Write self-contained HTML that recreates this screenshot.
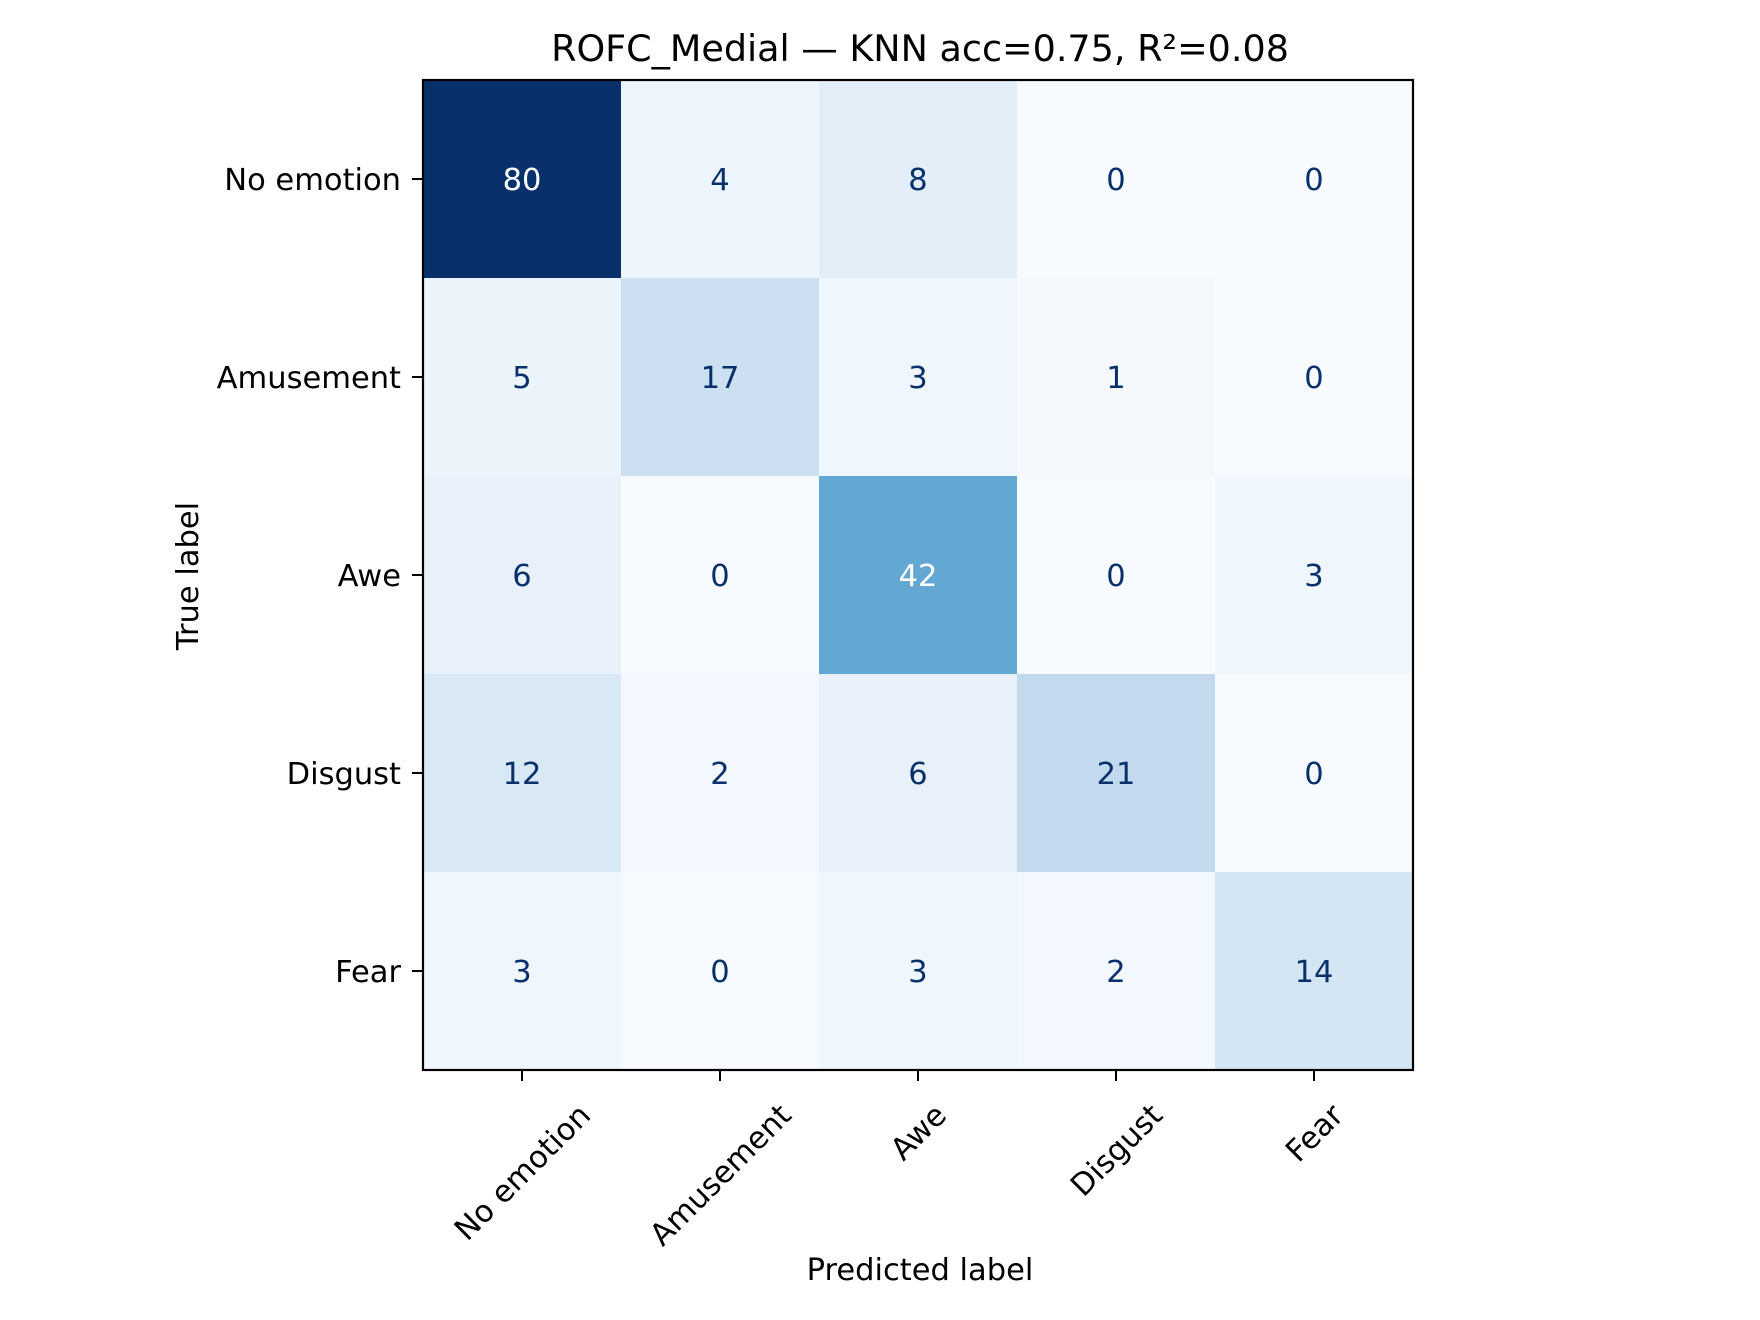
<!DOCTYPE html>
<html><head><meta charset="utf-8"><style>
html,body{margin:0;padding:0;background:#fff}
svg{display:block;font-family:"DejaVu Sans","Liberation Sans",sans-serif}
</style></head><body>
<svg id="chart" width="1760" height="1320" viewBox="0 0 1760 1320">
<rect width="1760" height="1320" fill="#fff"/>
<text x="920" y="61" font-size="36.5" text-anchor="middle">ROFC_Medial — KNN acc=0.75, R²=0.08</text>
<g id="cells"></g>
<g id="ticks"></g>
<rect x="423" y="80" width="990" height="990" fill="none" stroke="#000" stroke-width="2.2"/>
<text x="920" y="1280" font-size="30.5" text-anchor="middle">Predicted label</text>
<text transform="translate(198,576) rotate(-90)" font-size="30.5" text-anchor="middle">True label</text>
</svg>
<script>
const categories = ["No emotion","Amusement","Awe","Disgust","Fear"];
const row0 = [80,4,8,0,0];
const row1 = [5,17,3,1,0];
const row2 = [6,0,42,0,3];
const row3 = [12,2,6,21,0];
const row4 = [3,0,3,2,14];
const matrix = [row0,row1,row2,row3,row4];

const X0=423, Y0=80, SIZE=990, N=categories.length, CW=SIZE/N;
const xPos = i => X0 + CW*(i+0.5);
const yPos = i => Y0 + CW*(i+0.5);
const stops = ["#f7fbff","#deebf7","#c6dbef","#9ecae1","#6baed6","#4292c6","#2171b5","#08519c","#08306b"];
function hex(h){return [1,3,5].map(k=>parseInt(h.substr(k,2),16));}
function blues(t){
  t=Math.max(0,Math.min(1,t));
  const p=t*(stops.length-1), i=Math.min(Math.floor(p),stops.length-2), f=p-i;
  const a=hex(stops[i]), b=hex(stops[i+1]);
  return "rgb("+a.map((v,k)=>Math.round(v+(b[k]-v)*f)).join(",")+")";
}
const all=matrix.flat(), vmax=Math.max(...all), vmin=Math.min(...all);
const NS="http://www.w3.org/2000/svg";
const cells=document.getElementById("cells"), ticks=document.getElementById("ticks");
function mk(tag,attrs,parent){const e=document.createElementNS(NS,tag);for(const k in attrs)e.setAttribute(k,attrs[k]);parent.appendChild(e);return e;}
matrix.forEach((row,r)=>row.forEach((v,c)=>{
  const rect=mk("rect",{x:xPos(c)-CW/2,y:yPos(r)-CW/2,width:CW+0.5,height:CW+0.5,fill:blues((v-vmin)/(vmax-vmin))},cells);
  
  
  const t=mk("text",{x:xPos(c),y:yPos(r)+11,"font-size":30.5,"text-anchor":"middle",fill:v>(vmax+vmin)/2?"#fff":"#08306b"},cells);
  t.textContent=v;
  
  
}));
categories.forEach((name,i)=>{
  const yt=mk("line",{x1:X0-11,x2:X0,y1:yPos(i),y2:yPos(i),stroke:"#000","stroke-width":2},ticks);
  
  
  const yl=mk("text",{x:X0-22,y:yPos(i)+11,"font-size":30.5,"text-anchor":"end"},ticks);
  yl.textContent=name;
  
  
  const xt=mk("line",{x1:xPos(i),x2:xPos(i),y1:Y0+SIZE,y2:Y0+SIZE+11,stroke:"#000","stroke-width":2},ticks);
  
  
  const xl=mk("text",{"font-size":30.5,"text-anchor":"middle"},ticks);
  xl.textContent=name;
  
  
  const len=xl.getComputedTextLength();
  const h=30.5*1.05;
  const half=(len+h)/2*Math.SQRT1_2;
  const cy=Y0+SIZE+28+half;
  xl.setAttribute("transform","translate("+xPos(i)+","+cy+") rotate(-45)");
  xl.setAttribute("y", 11);
});
</script>
</body></html>
